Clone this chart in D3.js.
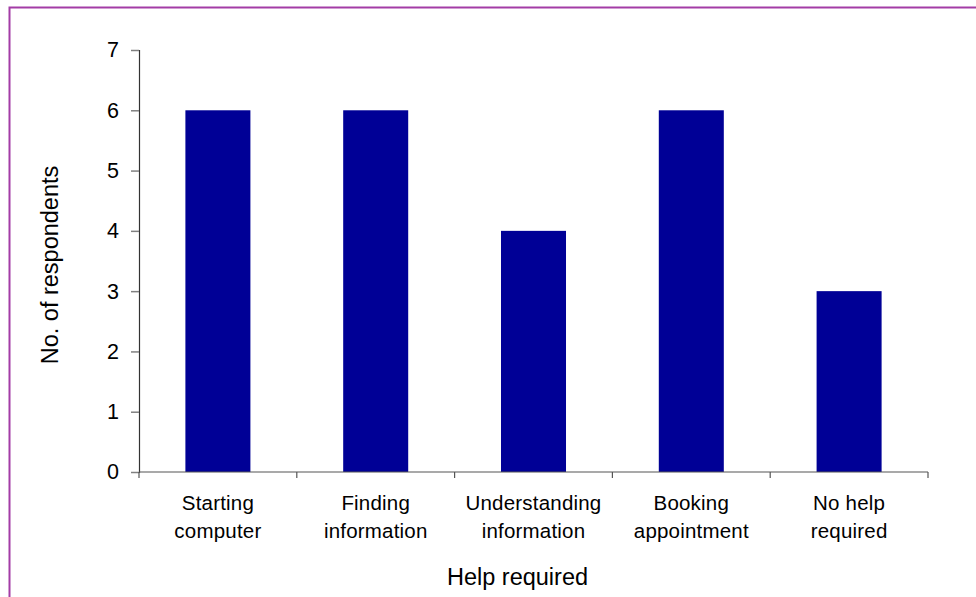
<!DOCTYPE html>
<html>
<head>
<meta charset="utf-8">
<script src="https://cdn.jsdelivr.net/npm/d3@7"></script>
<style>
  html, body { margin: 0; padding: 0; background: #fff; }
  svg { display: block; font-family: "Liberation Sans", Arial, sans-serif; }
</style>
</head>
<body>
<svg id="chart" width="976" height="597"></svg>
<script>
// === DATA ===
const categories = [
    ['Starting', 'computer'],
    ['Finding', 'information'],
    ['Understanding', 'information'],
    ['Booking', 'appointment'],
    ['No help', 'required']
];
const respondents = [6, 6, 4, 6, 3];
const yTicks = [0, 1, 2, 3, 4, 5, 6, 7];

// === LAYOUT ===
const W = 976, H = 597;
const plot = { left: 139, right: 928, top: 50, bottom: 472 };
const TICK_FONT = 21.5;
const LABEL_FONT = 20.5;
const TITLE_FONT = 23.5;

const svg = d3.select('#chart');

// Outer border (runs off the right and bottom edges)
svg.append('rect')
    .attr('x', 9.5).attr('y', 7.5)
    .attr('width', W + 20).attr('height', H + 20)
    .attr('fill', 'none')
    .attr('stroke', '#a33ca6')
    .attr('stroke-width', 2);

const x = d3.scaleBand()
    .domain(d3.range(categories.length))
    .range([plot.left, plot.right])
    .padding(0);

const y = d3.scaleLinear()
    .domain([0, 7])
    .range([plot.bottom, plot.top]);

const barW = x.bandwidth() * 0.412;

// Bars
svg.append('g')
    .selectAll('rect')
    .data(respondents)
    .join('rect')
    .attr('x', (d, i) => x(i) + (x.bandwidth() - barW) / 2)
    .attr('y', d => y(d))
    .attr('width', barW)
    .attr('height', d => y(0) - y(d))
    .attr('fill', '#000096');

// Y axis
const yAxis = svg.append('g')
    .attr('transform', `translate(${plot.left},0)`)
    .call(d3.axisLeft(y).tickValues(yTicks).tickSize(8).tickPadding(12).tickFormat(d3.format('d')));
yAxis.select('.domain').attr('stroke', '#333').attr('stroke-width', 1.2);
yAxis.selectAll('.tick line').attr('stroke', '#808080').attr('stroke-width', 1.5);
yAxis.selectAll('.tick text')
    .attr('font-size', TICK_FONT)
    .attr('font-family', '"Liberation Sans", Arial, sans-serif')
    .attr('fill', '#000');

// X axis: ticks at band boundaries
const xAxisG = svg.append('g').attr('class', 'x-axis');
xAxisG.append('line')
    .attr('x1', plot.left).attr('x2', plot.right)
    .attr('y1', y(0)).attr('y2', y(0))
    .attr('stroke', '#555').attr('stroke-width', 1.2);
const boundaries = d3.range(categories.length + 1).map(i => i < categories.length ? x(i) : x(i - 1) + x.bandwidth());
xAxisG.selectAll('line.tick')
    .data(boundaries)
    .join('line')
    .attr('class', 'tick')
    .attr('x1', d => d).attr('x2', d => d)
    .attr('y1', y(0)).attr('y2', y(0) + 6)
    .attr('stroke', '#555').attr('stroke-width', 1.2);

// Category labels (two lines each)
const labels = svg.append('g')
    .selectAll('text')
    .data(categories)
    .join('text')
    .attr('x', (d, i) => x(i) + x.bandwidth() / 2)
    .attr('y', 510)
    .attr('text-anchor', 'middle')
    .attr('font-size', LABEL_FONT)
    .attr('letter-spacing', '0.2px')
    .attr('fill', '#000');
labels.selectAll('tspan')
    .data(d => d)
    .join('tspan')
    .attr('x', function () { return d3.select(this.parentNode).attr('x'); })
    .attr('dy', (d, i) => i === 0 ? 0 : 28)
    .text(d => d);

// Axis titles
svg.append('text')
    .attr('x', (plot.left + plot.right) / 2 - 16)
    .attr('y', 585)
    .attr('text-anchor', 'middle')
    .attr('font-size', TITLE_FONT)
    .text('Help required');

svg.append('text')
    .attr('transform', `translate(58, ${(plot.top + plot.bottom) / 2 + 4}) rotate(-90)`)
    .attr('text-anchor', 'middle')
    .attr('font-size', TITLE_FONT)
    .text('No. of respondents');
</script>
</body>
</html>
